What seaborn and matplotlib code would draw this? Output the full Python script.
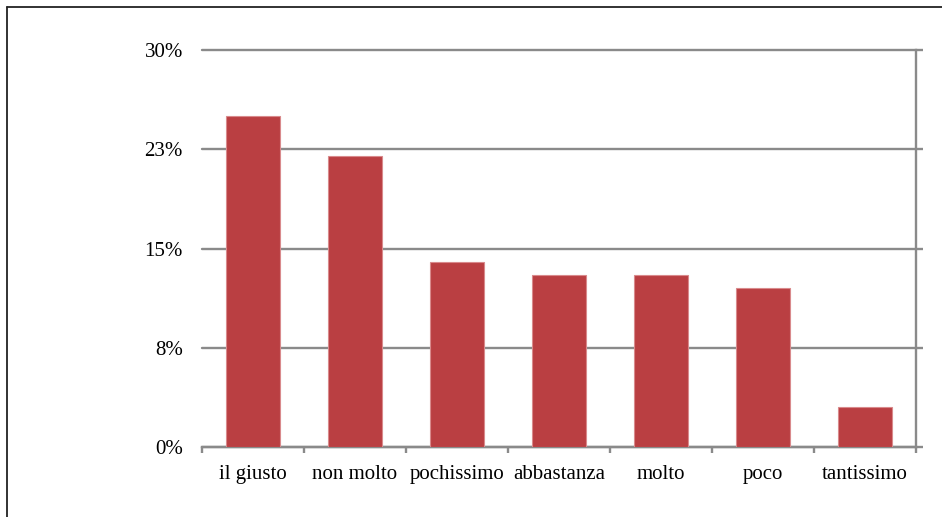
import numpy as np
import pandas as pd
import seaborn as sns
import matplotlib.pyplot as plt
from matplotlib.lines import Line2D

# Survey answers and their share of respondents (%)
categories = ["il giusto", "non molto", "pochissimo", "abbastanza", "molto", "poco", "tantissimo"]
percent = [25, 22, 14, 13, 13, 12, 3]
y_ticks = [0, 7.5, 15, 22.5, 30]
y_tick_labels = ["0%", "8%", "15%", "23%", "30%"]

bar_color = "#BA3F42"
bar_edge = "#D98A8C"
grid_color = "#8A8A8A"

sns.set_theme(style="white")
plt.rcParams["font.family"] = ["Liberation Serif", "DejaVu Serif"]

fig = plt.figure(figsize=(9.42, 5.17), dpi=100)
ax = fig.add_axes([202 / 942, 1 - 447 / 517, (916 - 202) / 942, (447 - 50) / 517])

df = pd.DataFrame({"risposta": categories, "percentuale": percent})
sns.barplot(data=df, x="risposta", y="percentuale", order=categories,
            color=bar_color, saturation=1, width=0.52,
            edgecolor=bar_edge, linewidth=0.8, ax=ax, zorder=3)

ax.set_xlim(-0.5, len(categories) - 0.5)
ax.set_ylim(0, 30)
ax.set_xlabel("")
ax.set_ylabel("")

# y axis: labels on the left, outward ticks on the right spine
ax.set_yticks(y_ticks, y_tick_labels)
ax.yaxis.grid(True, color=grid_color, linewidth=1.7, zorder=0)
ax.xaxis.grid(False)
ax.set_axisbelow(True)
for gl in ax.get_ygridlines():
    gl.set_clip_on(False)
ax.tick_params(axis="y", which="major", left=False, right=True, labelleft=True,
               labelright=False, direction="out", length=5, width=1.7,
               color=grid_color, pad=8.7, labelsize=15, labelcolor="black")

# x axis: ticks at category boundaries, labels centred on the bars
ax.set_xticks(np.arange(-0.5, len(categories), 1.0))
ax.set_xticklabels([])
ax.set_xticks(np.arange(len(categories)), categories, minor=True)
ax.tick_params(axis="x", which="major", bottom=True, direction="out",
               length=4.5, width=1.7, color=grid_color)
ax.tick_params(axis="x", which="minor", bottom=True, length=0, pad=13.3,
               labelsize=15, labelcolor="black")

for side in ("left", "top"):
    ax.spines[side].set_visible(False)
for side in ("right", "bottom"):
    ax.spines[side].set_visible(True)
    ax.spines[side].set_color(grid_color)
    ax.spines[side].set_linewidth(1.7)

# chart frame (top and left edges)
fx = 6.5 / 942
fy = 1 - 6.5 / 517
fig.add_artist(Line2D([fx, fx], [0, fy], transform=fig.transFigure,
                      color="#222222", linewidth=1.3))
fig.add_artist(Line2D([fx, 1], [fy, fy], transform=fig.transFigure,
                      color="#222222", linewidth=1.3))

fig.savefig("out.png", dpi=100, facecolor="white")
